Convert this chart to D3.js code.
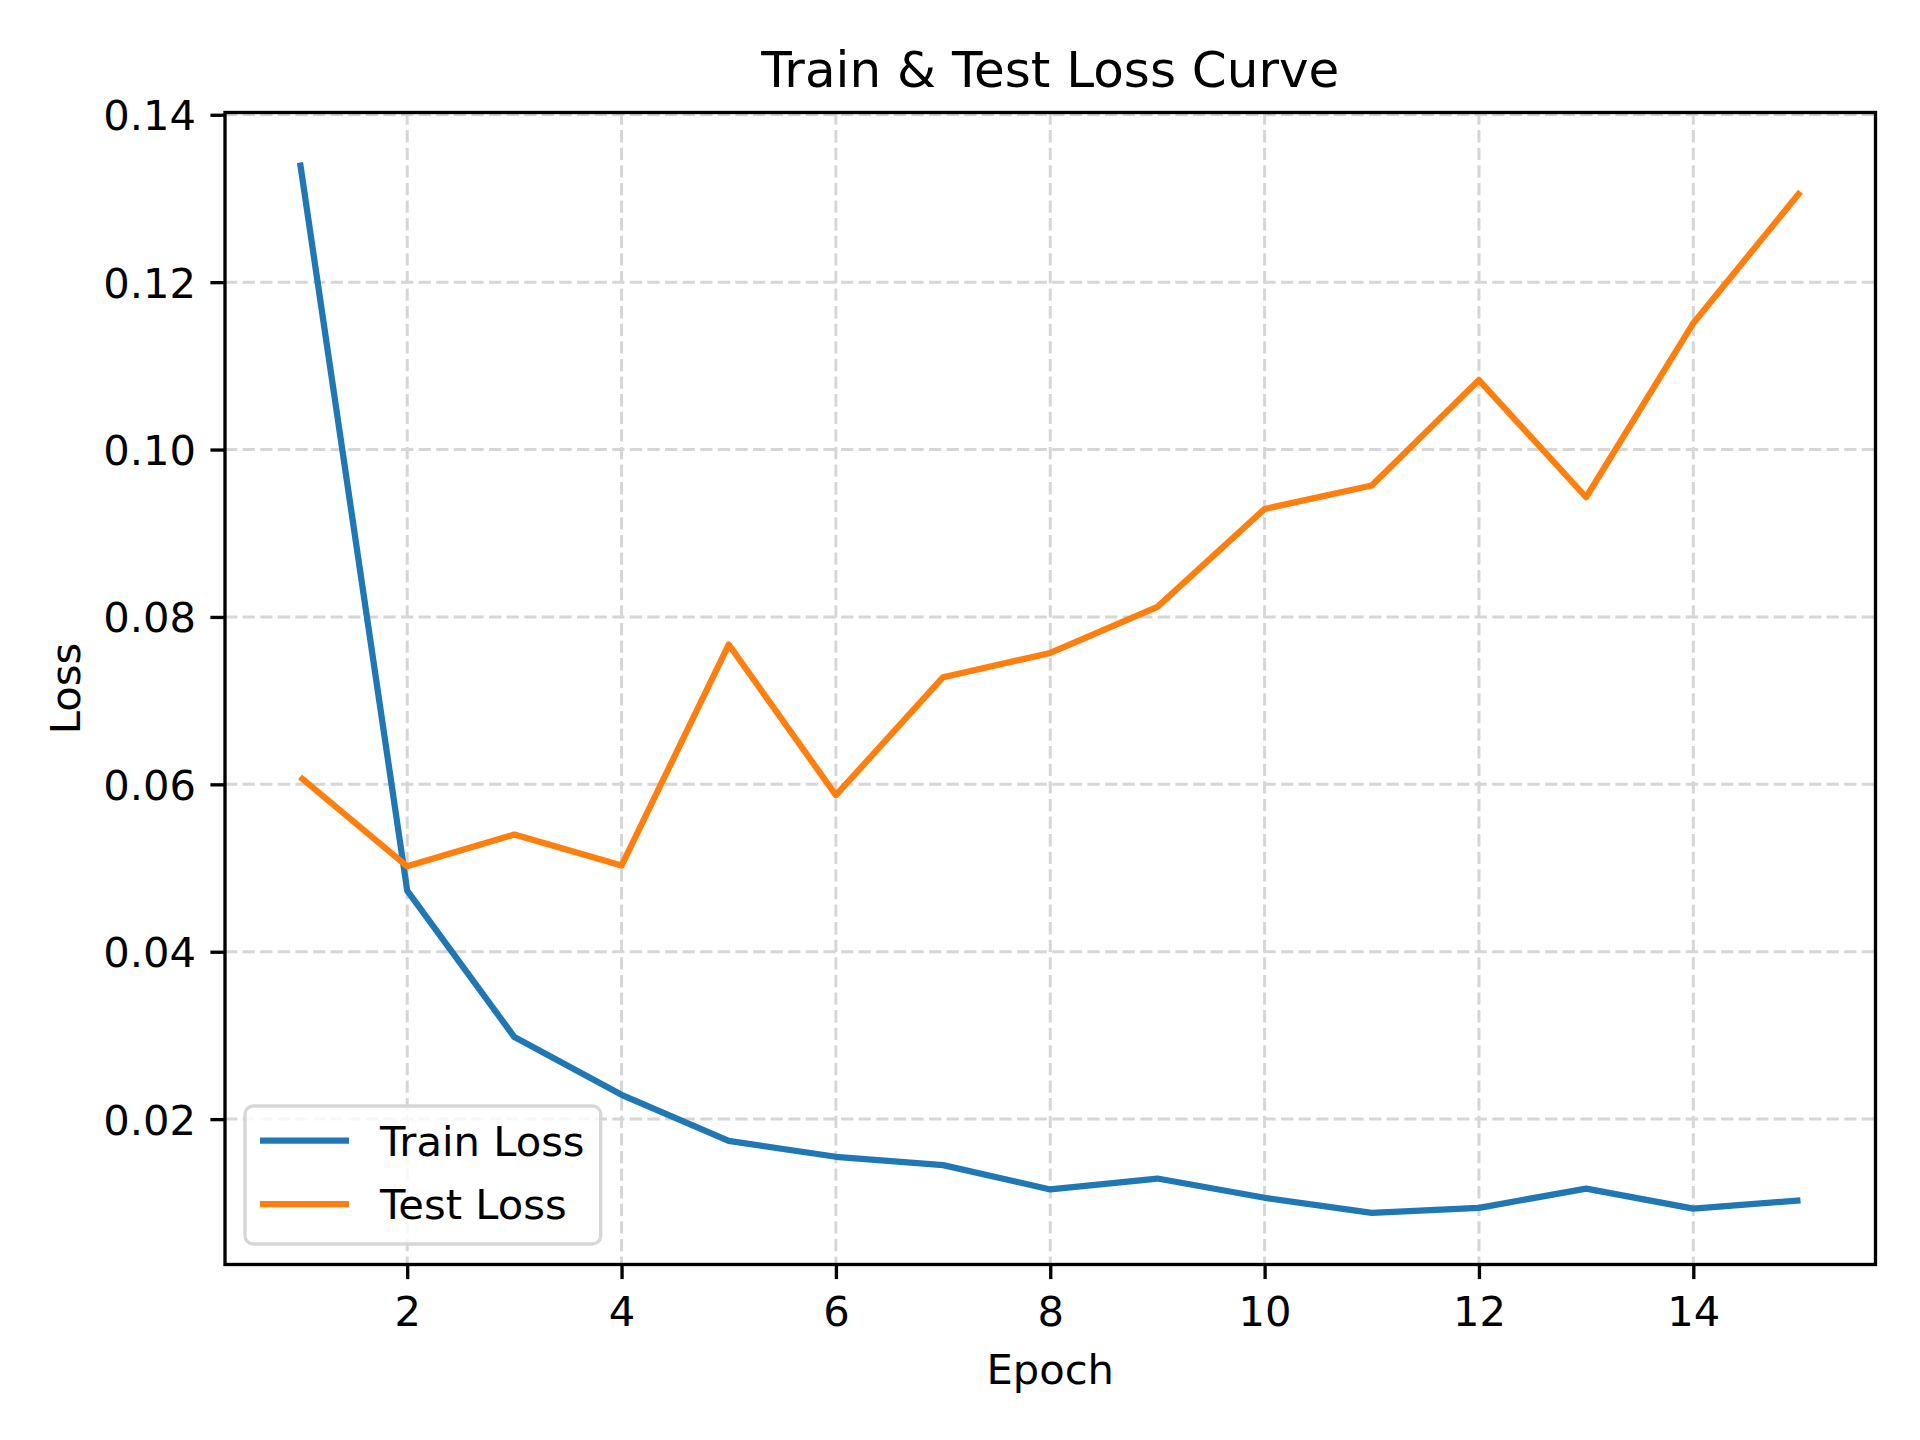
<!DOCTYPE html>
<html>
<head>
<meta charset="utf-8">
<script src="https://cdn.jsdelivr.net/npm/d3@7"></script>
<style>
  html, body { margin: 0; padding: 0; background: #ffffff; }
  svg { display: block; font-family: "DejaVu Sans", sans-serif; }
</style>
</head>
<body>
<svg id="chart" width="1920" height="1440"></svg>
<script>
const epochs = [1, 2, 3, 4, 5, 6, 7, 8, 9, 10, 11, 12, 13, 14, 15];
const trainLoss = [0.1343, 0.0473, 0.0298, 0.0229, 0.0174, 0.0155, 0.0145, 0.0116, 0.0129, 0.0106, 0.0088, 0.0094, 0.0117, 0.0093, 0.0103];
const testLoss  = [0.0609, 0.0502, 0.0540, 0.0503, 0.0767, 0.0587, 0.0728, 0.0757, 0.0812, 0.0929, 0.0957, 0.1083, 0.0943, 0.1151, 0.1308];
const xTicks = [2, 4, 6, 8, 10, 12, 14];
const yTicks = [0.02, 0.04, 0.06, 0.08, 0.10, 0.12, 0.14];
const seriesNames = ["Train Loss", "Test Loss"];
const seriesColors = ["#1f77b4", "#ff7f0e"];
const titleText = "Train & Test Loss Curve";
const xLabel = "Epoch";
const yLabel = "Loss";
const xDomain = [0.3, 15.7];
const yDomain = [0.00263, 0.14027];

const L = 225, R = 1875.5, T = 112.5, B = 1264.5;
const fs = 41.67;
const tickLen = 14.6;
const axLW = 3.33;

const svg = d3.select("#chart");

const x = d3.scaleLinear().domain(xDomain).range([L, R]);
const y = d3.scaleLinear().domain(yDomain).range([B, T]);

// grid
const grid = svg.append("g");
grid.selectAll("line.gx").data(xTicks).enter().append("line")
  .attr("x1", d => x(d)).attr("x2", d => x(d)).attr("y1", T).attr("y2", B)
  .attr("stroke", "#d6d6d6").attr("stroke-width", 3).attr("stroke-dasharray", "12.3,5.3");
grid.selectAll("line.gy").data(yTicks).enter().append("line")
  .attr("y1", d => y(d)).attr("y2", d => y(d)).attr("x1", L).attr("x2", R)
  .attr("stroke", "#d6d6d6").attr("stroke-width", 3).attr("stroke-dasharray", "12.3,5.3");

// lines
const lineGen = d3.line().x(d => x(d[0])).y(d => y(d[1]));
const series = [trainLoss, testLoss];
series.forEach((vals, i) => {
  svg.append("path")
    .datum(epochs.map((e, j) => [e, vals[j]]))
    .attr("d", lineGen)
    .attr("fill", "none")
    .attr("stroke", seriesColors[i])
    .attr("stroke-width", 6.25)
    .attr("stroke-linejoin", "round")
    .attr("stroke-linecap", "butt");
});

// axes
const xAxis = d3.axisBottom(x).tickValues(xTicks).tickFormat(d3.format("d"))
  .tickSizeInner(tickLen).tickSizeOuter(0).tickPadding(17.8);
const gx = svg.append("g").attr("transform", `translate(0,${B})`).call(xAxis);
const yAxis = d3.axisLeft(y).tickValues(yTicks).tickFormat(d3.format(".2f"))
  .tickSizeInner(tickLen).tickSizeOuter(0).tickPadding(14.4);
const gy = svg.append("g").attr("transform", `translate(${L},0)`).call(yAxis);
[gx, gy].forEach(g => {
  g.select(".domain").remove();
  g.selectAll(".tick line").attr("stroke", "#000").attr("stroke-width", axLW);
  g.selectAll(".tick text").attr("fill", "#000")
    .style("font-family", "'DejaVu Sans', sans-serif").style("font-size", fs + "px");
});
gy.selectAll(".tick text").attr("dy", "0.36em");

// spines
svg.append("rect").attr("x", L).attr("y", T).attr("width", R - L).attr("height", B - T)
  .attr("fill", "none").attr("stroke", "#000").attr("stroke-width", axLW);

// title and labels
svg.append("text").attr("x", (L + R) / 2).attr("y", 86.7).attr("text-anchor", "middle")
  .style("font-size", "50px").attr("fill", "#000").text(titleText);
svg.append("text").attr("x", (L + R) / 2).attr("y", 1384.3).attr("text-anchor", "middle")
  .style("font-size", fs + "px").attr("fill", "#000").text(xLabel);
svg.append("text").attr("transform", `translate(80,${(T + B) / 2}) rotate(-90)`)
  .attr("text-anchor", "middle").style("font-size", fs + "px").attr("fill", "#000").text(yLabel);

// legend
const lg = svg.append("g");
lg.append("rect").attr("x", 245).attr("y", 1106).attr("width", 355.7).attr("height", 138)
  .attr("rx", 8.3).attr("ry", 8.3)
  .attr("fill", "rgba(255,255,255,0.8)").attr("stroke", "#d6d6d6").attr("stroke-width", axLW);
const legY = [1140.7, 1204];
seriesNames.forEach((name, i) => {
  lg.append("line").attr("x1", 260).attr("x2", 349).attr("y1", legY[i]).attr("y2", legY[i])
    .attr("stroke", seriesColors[i]).attr("stroke-width", 6.25);
  lg.append("text").attr("x", 380).attr("y", legY[i] + 15.2)
    .style("font-size", fs + "px").attr("fill", "#000").text(name);
});
</script>
</body>
</html>
